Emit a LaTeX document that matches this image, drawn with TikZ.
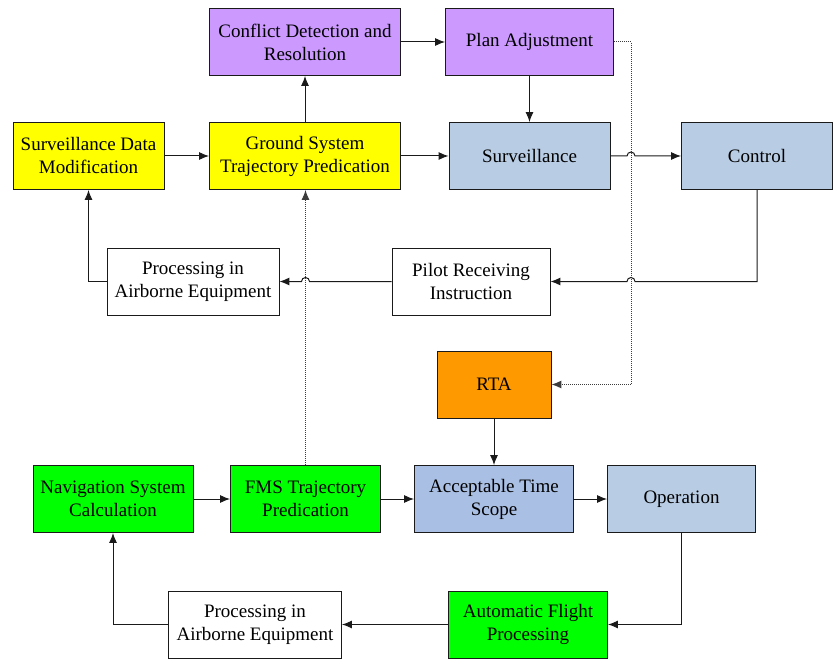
\documentclass[tikz,border=0pt]{standalone}
\usepackage{fontspec}
\setmainfont{Liberation Serif}
\usetikzlibrary{arrows.meta}
\definecolor{cpurple}{HTML}{CC99FF}
\definecolor{cyellow}{HTML}{FFFF00}
\definecolor{cblue}{HTML}{B8CCE4}
\definecolor{cblueb}{HTML}{A9C0E4}
\definecolor{corange}{HTML}{FF9900}
\definecolor{cgreen}{HTML}{00FF00}
\definecolor{cline}{HTML}{1A1A1A}
\begin{document}
\begin{tikzpicture}[x=1pt,y=-1pt,
  box/.style={draw=cline,line width=0.9pt,minimum height=67pt,inner sep=1pt,align=center,
     font=\fontsize{19}{23}\selectfont},
  conn/.style={draw=cline,line width=1pt,-{Latex[length=10pt,width=8pt]}},
  dotconn/.style={draw=cline!85,line width=1pt,densely dotted,-{Latex[length=10pt,width=8pt]}}]
\useasboundingbox (0,0) rectangle (834,660);
% nodes
\node[box,fill=cpurple,minimum width=191pt] (conf) at (305,42) {Conflict Detection and\\Resolution};
\node[box,fill=cpurple,minimum width=168pt] (plan) at (529.5,42) {Plan Adjustment};
\node[box,fill=cyellow,minimum width=151pt] (sdm) at (88.5,156) {Surveillance Data\\Modification};
\node[box,fill=cyellow,minimum width=191pt] (gst) at (305,156) {Ground System\\Trajectory Predication};
\node[box,fill=cblue,minimum width=161pt] (surv) at (529.5,156) {Surveillance};
\node[box,fill=cblue,minimum width=151pt] (ctrl) at (757,156) {Control};
\node[box,fill=white,minimum width=172pt] (pae1) at (193,281.5) {Processing in\\Airborne Equipment};
\node[box,fill=white,minimum width=158pt] (pri) at (471,281.5) {Pilot Receiving\\Instruction};
\node[box,fill=corange,minimum width=114pt] (rta) at (494,384.5) {RTA};
\node[box,fill=cgreen,minimum width=160pt] (nav) at (113,499) {Navigation System\\Calculation};
\node[box,fill=cgreen,minimum width=150pt] (fms) at (305.5,499) {FMS Trajectory\\Predication};
\node[box,fill=cblueb,minimum width=159pt] (ats) at (494,499) {Acceptable Time\\Scope};
\node[box,fill=cblue,minimum width=148pt] (op) at (681.5,499) {Operation};
\node[box,fill=white,minimum width=173pt] (pae2) at (255,624.5) {Processing in\\Airborne Equipment};
\node[box,fill=cgreen,minimum width=159pt] (afp) at (528,624.5) {Automatic Flight\\Processing};
% helper coordinates
\coordinate (dx) at (631,0);
\coordinate (lx1) at (88.5,0);
\coordinate (lx2) at (113,0);
% dotted connectors
\draw[dotconn] (plan.east) -| (dx |- rta.east) -- (rta.east);
\draw[dotconn] (fms.north) -- (fms.north |- gst.south);
% top connectors
\draw[conn] (conf.east) -- (plan.west);
\draw[conn] (plan.south -| surv.north) -- (surv.north);
\draw[conn] (gst.north) -- (conf.south);
\draw[conn] (sdm.east) -- (gst.west);
\draw[conn] (gst.east) -- (surv.west);
\draw[conn] (surv.east) -- ([xshift=-4pt]dx |- surv.east) arc[start angle=180,end angle=0,radius=4pt] -- (ctrl.west);
\draw[conn] (ctrl.south) |- ([xshift=4pt]dx |- pri.east) arc[start angle=0,end angle=180,radius=4pt] -- (pri.east);
\draw[conn] (pri.west) -- ([xshift=4pt]fms.north |- pri.west) arc[start angle=0,end angle=180,radius=4pt] -- (pae1.east);
\draw[conn] (pae1.west) -| (lx1 |- sdm.south);
% bottom connectors
\draw[conn] (rta.south) -- (ats.north);
\draw[conn] (nav.east) -- (fms.west);
\draw[conn] (fms.east) -- (ats.west);
\draw[conn] (ats.east) -- (op.west);
\draw[conn] (op.south) |- (afp.east);
\draw[conn] (afp.west) -- (pae2.east);
\draw[conn] (pae2.west) -| (lx2 |- nav.south);
\end{tikzpicture}
\end{document}
